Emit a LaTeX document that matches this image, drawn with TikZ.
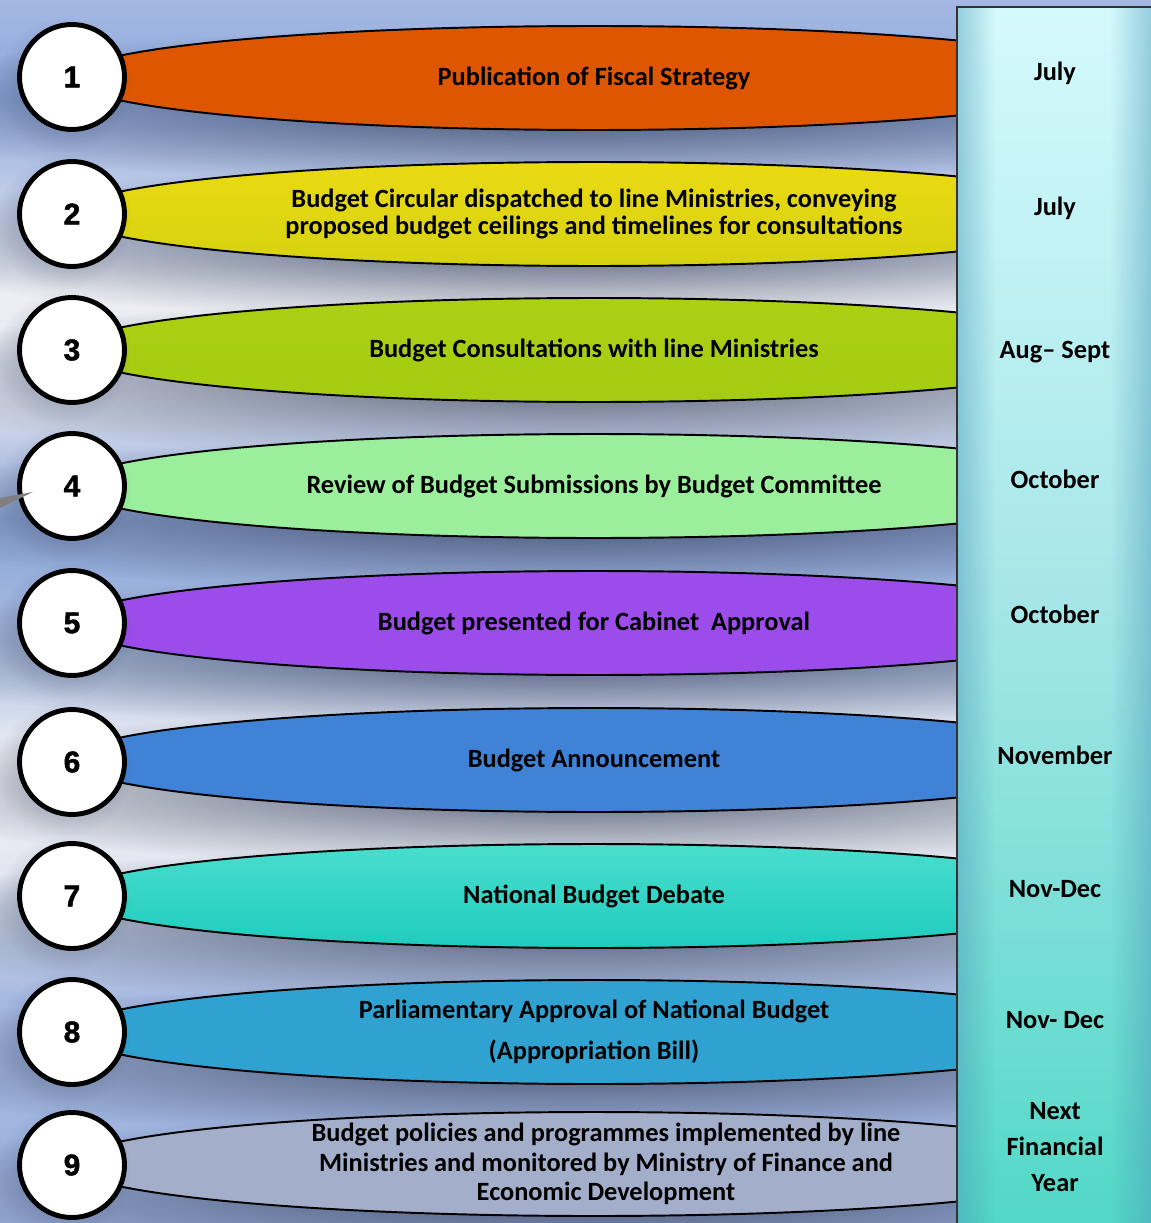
\documentclass[tikz,border=0pt]{standalone}
\usepackage{fontspec}
\setmainfont{Carlito}
\newfontfamily\numfont[BoldFeatures={FakeBold=1.6}]{Liberation Sans}
\usetikzlibrary{shapes.geometric,fadings}

\definecolor{bgA}{HTML}{A4B8E2}
\definecolor{bgB}{HTML}{8EA8DC}
\definecolor{bgC}{HTML}{C4D0EA}
\definecolor{bgD}{HTML}{EEF0F4}
\definecolor{bgE}{HTML}{DDE2EE}
\definecolor{bgF}{HTML}{8CA6D8}
\definecolor{bgG}{HTML}{A8BCE2}
\definecolor{bgH}{HTML}{F0F1F4}
\definecolor{bgI}{HTML}{E2E6F0}
\definecolor{bgJ}{HTML}{A4B8E0}
\definecolor{bgK}{HTML}{9CB2DE}
\definecolor{panelTop}{HTML}{D4FAFC}
\definecolor{panelMid}{HTML}{A6E6E8}
\definecolor{panelBot}{HTML}{52D8C6}
\definecolor{panelEdge}{HTML}{4A96B8}
\definecolor{shadowcol}{HTML}{3A4460}

\tikzfading[name=softglow, inner color=transparent!0, outer color=transparent!100]

\tikzset{
  stepnum/.style={circle, draw=black, line width=2.8pt, fill=white, minimum size=2.1cm,
    inner sep=0pt, font=\numfont\bfseries\fontsize{17}{20}\selectfont},
  lens/.style={ellipse, draw=black, line width=1.1pt, minimum width=21cm,
    minimum height=2.08cm, inner sep=0pt},
  steptext/.style={font=\bfseries\fontsize{15}{15.9}\selectfont, align=center, inner sep=0pt},
  month/.style={font=\bfseries\fontsize{15}{20.4}\selectfont, align=center, inner sep=0pt},
  lensshadow/.style={fill=shadowcol, opacity=.85, path fading=softglow}
}

\begin{document}
\begin{tikzpicture}[x=0.02cm,y=-0.02cm]
  \useasboundingbox (0,0) rectangle (1151,1223);
  % background
  \shade [top color=bgA, bottom color=bgB] (0,0) rectangle (1151,100);
  \shade [top color=bgB, bottom color=bgC] (0,100) rectangle (1151,200);
  \shade [top color=bgC, bottom color=bgD] (0,200) rectangle (1151,290);
  \shade [top color=bgD, bottom color=bgE] (0,290) rectangle (1151,400);
  \shade [top color=bgE, bottom color=bgF] (0,400) rectangle (1151,520);
  \shade [top color=bgF, bottom color=bgG] (0,520) rectangle (1151,640);
  \shade [top color=bgG, bottom color=bgH] (0,640) rectangle (1151,760);
  \shade [top color=bgH, bottom color=bgI] (0,760) rectangle (1151,880);
  \shade [top color=bgI, bottom color=bgJ] (0,880) rectangle (1151,1000);
  \shade [top color=bgJ, bottom color=bgK] (0,1000) rectangle (1151,1223);
  % shadows
  \fill [lensshadow] (570,106) ellipse (740 and 80);
  \fill [lensshadow] (570,242) ellipse (740 and 80);
  \fill [lensshadow] (570,378) ellipse (740 and 80);
  \fill [lensshadow] (570,514) ellipse (740 and 80);
  \fill [lensshadow] (570,651) ellipse (740 and 80);
  \fill [lensshadow] (570,788) ellipse (740 and 80);
  \fill [lensshadow] (570,924) ellipse (740 and 80);
  \fill [lensshadow] (570,1060) ellipse (740 and 80);
  \fill [lensshadow] (570,1192) ellipse (740 and 80);
  % lenses
  \node [lens, fill={rgb,255:red,222;green,86;blue,0}] (l1) at (594,78) {};
  \node [lens, top color={rgb,255:red,234;green,218;blue,18}, bottom color={rgb,255:red,214;green,210;blue,16}] (l2) at (594,214) {};
  \node [lens, top color={rgb,255:red,172;green,208;blue,20}, bottom color={rgb,255:red,164;green,204;blue,18}] (l3) at (594,350) {};
  \node [lens, fill={rgb,255:red,154;green,238;blue,156}] (l4) at (594,486) {};
  \node [lens, fill={rgb,255:red,156;green,76;blue,234}] (l5) at (594,623) {};
  \node [lens, fill={rgb,255:red,64;green,130;blue,214}] (l6) at (594,760) {};
  \node [lens, top color={rgb,255:red,74;green,222;blue,206}, bottom color={rgb,255:red,30;green,204;blue,190}] (l7) at (594,896) {};
  \node [lens, fill={rgb,255:red,48;green,162;blue,210}] (l8) at (594,1032) {};
  \node [lens, fill={rgb,255:red,162;green,174;blue,202}] (l9) at (594,1164) {};
  % texts
  \node [steptext] (t1) at (l1) {Publication of Fiscal Strategy};
  \node [steptext] (t2) at (l2) {Budget Circular dispatched to line Ministries, conveying\\proposed budget ceilings and timelines for consultations};
  \node [steptext] (t3) at (l3) {Budget Consultations with line Ministries};
  \node [steptext] (t4) at (l4) {Review of Budget Submissions by Budget Committee};
  \node [steptext] (t5) at (l5) {Budget presented for Cabinet\ \ Approval};
  \node [steptext] (t6) at (l6) {Budget Announcement};
  \node [steptext] (t7) at (l7) {National Budget Debate};
  \node [steptext] (t8) at (l8) {Parliamentary Approval of National Budget\\[7.5pt](Appropriation Bill)};
  \node [steptext, font=\bfseries\fontsize{15}{16.7}\selectfont] (t9) at (606,1164) {Budget policies and programmes implemented by line\\Ministries and monitored by Ministry of Finance and\\Economic Development};
  % numbers
  \fill [shadowcol, opacity=.4, path fading=softglow] (64,85) circle (68);
  \fill [shadowcol, opacity=.4, path fading=softglow] (64,222) circle (68);
  \fill [shadowcol, opacity=.4, path fading=softglow] (64,358) circle (68);
  \fill [shadowcol, opacity=.4, path fading=softglow] (64,494) circle (68);
  \fill [shadowcol, opacity=.4, path fading=softglow] (64,631) circle (68);
  \fill [shadowcol, opacity=.4, path fading=softglow] (64,770) circle (68);
  \fill [shadowcol, opacity=.4, path fading=softglow] (64,904) circle (68);
  \fill [shadowcol, opacity=.4, path fading=softglow] (64,1040) circle (68);
  \fill [shadowcol, opacity=.4, path fading=softglow] (64,1173) circle (68);
  \node [stepnum] (c1) at (72,77) {1};
  \node [stepnum] (c2) at (72,214) {2};
  \node [stepnum] (c3) at (72,350) {3};
  \node [stepnum] (c4) at (72,486) {4};
  \node [stepnum] (c5) at (72,623) {5};
  \node [stepnum] (c6) at (72,762) {6};
  \node [stepnum] (c7) at (72,896) {7};
  \node [stepnum] (c8) at (72,1032) {8};
  \node [stepnum] (c9) at (72,1165) {9};
  \fill [gray] (0,498) -- (33,492) -- (0,508) -- cycle;
  % month panel
  \shade [top color=panelTop, bottom color=panelMid] (957,7) rectangle (1151,600);
  \shade [top color=panelMid, bottom color=panelBot] (957,600) rectangle (1151,1223);
  \fill [panelEdge, opacity=.45, path fading=east] (957,7) rectangle (995,1223);
  \fill [panelEdge, opacity=.45, path fading=west] (1110,7) rectangle (1151,1223);
  \draw [black!80, line width=0.6pt] (957,1223) -- (957,7) -- (1151,7);
  \node [month] (m1) at (1055,73) {July};
  \node [month] (m2) at (1055,208) {July};
  \node [month] (m3) at (1055,352) {Aug– Sept};
  \node [month] (m4) at (1055,479) {October};
  \node [month] (m5) at (1055,614) {October};
  \node [month] (m6) at (1055,755) {November};
  \node [month] (m7) at (1055,889) {Nov-Dec};
  \node [month] (m8) at (1055,1020) {Nov- Dec};
  \node [month] (m9) at (1055,1147) {Next\\Financial\\Year};
\end{tikzpicture}
\end{document}
